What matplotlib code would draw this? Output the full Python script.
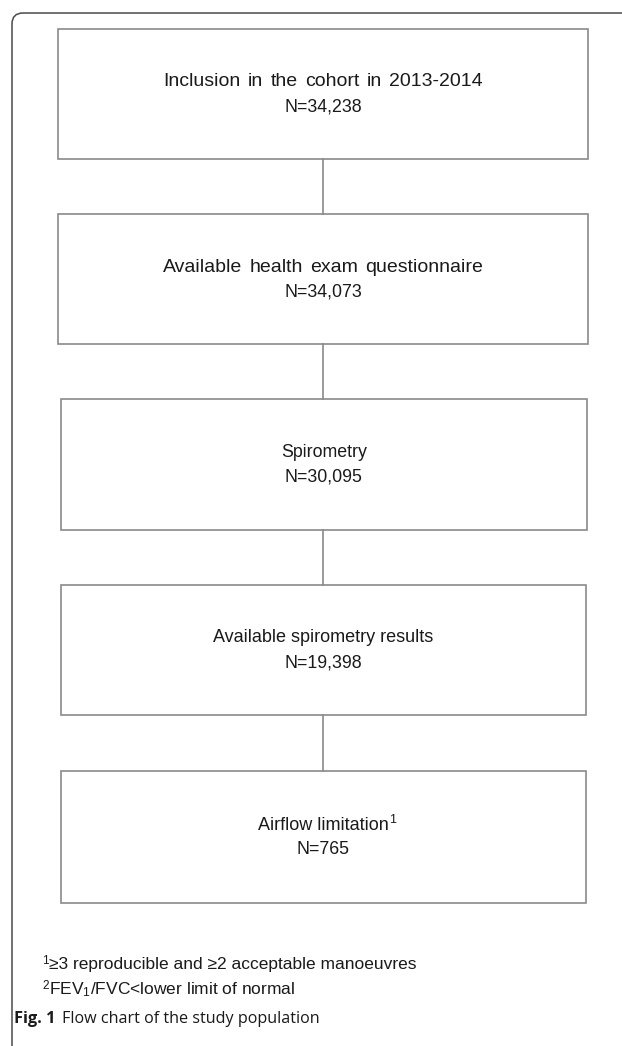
import matplotlib
matplotlib.use("Agg")
import matplotlib.pyplot as plt
from matplotlib.patches import Rectangle
from matplotlib.path import Path
from matplotlib.patches import PathPatch

plt.rcParams['mathtext.fontset'] = 'custom'
plt.rcParams['mathtext.rm'] = 'Liberation Sans'
plt.rcParams['mathtext.it'] = 'Liberation Sans'

# ---- data ----
stages = [
    "Inclusion in the cohort in 2013-2014",
    "Available health exam questionnaire",
    "Spirometry",
    "Available spirometry results",
    "Airflow limitation",
]
stage_marks = ["", "", "", "", "1"]
counts = ["34,238", "34,073", "30,095", "19,398", "765"]
footnote_marks = ["1", "2"]
footnotes = [
    "\u22653 reproducible and \u22652 acceptable manoeuvres",
    "FEV$_{1}$/FVC<lower limit of normal",
]
caption_bold = "Fig. 1"
caption_text = "Flow chart of the study population"

# ---- layout (pixels) ----
W, H = 622, 1046
boxes = [  # left, right, top, bottom
    (58, 588, 29, 159),
    (58, 588, 214, 344),
    (60.5, 587, 399, 530),
    (61, 586, 585, 715),
    (61, 586, 771, 903),
]
title_fs = [14.0, 14.0, 12.8, 13.0, 13.0]
word_gap = [1.8, 2.0, 0.0, 0.0, 0.0]   # extra pixels per space

fig = plt.figure(figsize=(W / 100, H / 100), dpi=100)
ax = fig.add_axes([0, 0, 1, 1])
ax.set_xlim(0, W)
ax.set_ylim(H, 0)
ax.axis("off")

font = ['Liberation Sans', 'DejaVu Sans']
edge = "#8a8a8a"
tc = "#1a1a1a"
N_FS = 12.8
FN_FS = 12.5
SUP_FS = 8.5

fig.canvas.draw()
renderer = fig.canvas.get_renderer()
inv = ax.transData.inverted()


def right_edge(t):
    bb = t.get_window_extent(renderer)
    return inv.transform((bb.x1, bb.y0))[0]


def width_px(s, fs):
    t = ax.text(0, 0, s, fontsize=fs, family=font)
    w = t.get_window_extent(renderer).width
    t.remove()
    return w


def spaced_text(cx, cy, s, fs, extra):
    """Centered text with extra word spacing; returns right edge x."""
    if extra == 0:
        t = ax.text(cx, cy, s, ha="center", va="center", fontsize=fs,
                    family=font, color=tc)
        return right_edge(t)
    words = s.split(" ")
    sp = width_px("a a", fs) - 2 * width_px("a", fs) + extra
    ws = [width_px(w, fs) for w in words]
    total = sum(ws) + sp * (len(words) - 1)
    x = cx - total / 2
    for w, wd in zip(words, ws):
        ax.text(x, cy, w, ha="left", va="center", fontsize=fs, family=font,
                color=tc)
        x += wd + sp
    return x - sp


# outer rounded frame (top and left only)
r = 11
x0, y0 = 12, 13
verts = [(x0, H + 5), (x0, y0 + r), (x0, y0), (x0 + r, y0), (W + 5, y0)]
codes = [Path.MOVETO, Path.LINETO, Path.CURVE3, Path.CURVE3, Path.LINETO]
ax.add_patch(PathPatch(Path(verts, codes), fill=False, edgecolor="#4a4a4a", lw=1.1))

for i, ((l, rr, t, b), name, mk, n, fs, gap) in enumerate(
        zip(boxes, stages, stage_marks, counts, title_fs, word_gap)):
    ax.add_patch(Rectangle((l, t), rr - l, b - t, fill=False, edgecolor=edge, lw=1.2))
    cx = (l + rr) / 2
    cy = (t + b) / 2
    xr = spaced_text(cx, cy - 12, name, fs, gap)
    if mk:
        ax.text(xr + 0.5, cy - 17, mk, ha="left", va="center",
                fontsize=SUP_FS + 0.5, family=font, color=tc)
    ax.text(cx, cy + 13, "N=" + n, ha="center", va="center", fontsize=N_FS,
            family=font, color=tc)
    if i < len(boxes) - 1:
        nb = boxes[i + 1]
        ax.plot([323, 323], [b, nb[2]], color=edge, lw=1.2)

for k, (mk, fn) in enumerate(zip(footnote_marks, footnotes)):
    y = 965 + 25 * k
    m = ax.text(42, y - 4, mk, ha="left", va="center", fontsize=SUP_FS,
                family=font, color=tc)
    ax.text(right_edge(m) + 0.5, y, fn, ha="left", va="center", fontsize=FN_FS,
            family=font, color=tc)

t1 = ax.text(14, 1019, caption_bold, ha="left", va="center", fontsize=11.8,
             family=['Open Sans', 'DejaVu Sans'], fontweight="bold", color=tc)
ax.text(right_edge(t1) + 7, 1019, caption_text, ha="left", va="center", fontsize=11.6,
        family=['Open Sans', 'DejaVu Sans'], color=tc)

fig.savefig("out.png", dpi=100)
